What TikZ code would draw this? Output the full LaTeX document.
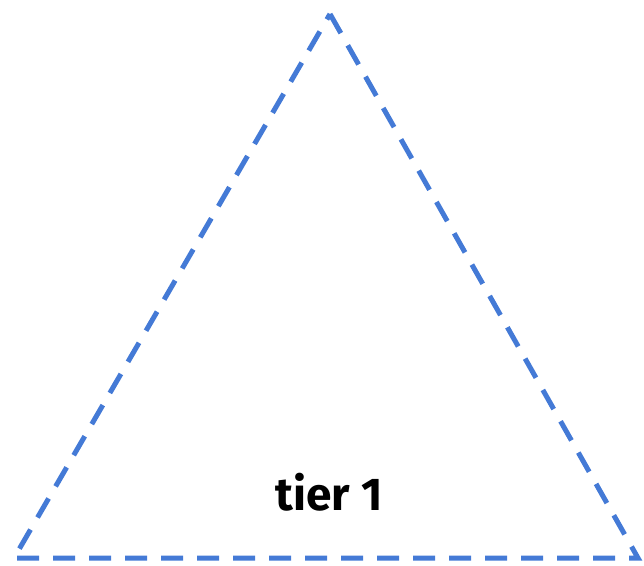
\documentclass[tikz,border=0pt]{standalone}
\usepackage{fontspec}
\setsansfont{Fira Sans}
\usepackage{tikz}
\usetikzlibrary{positioning}
\usepackage{xcolor}
\definecolor{TierBlue}{RGB}{68,122,214}

\begin{document}
\begin{tikzpicture}[
    x=1pt, y=-1pt,
    edge/.style={draw=TierBlue, line width=5pt, dash pattern=on 22pt off 14pt, line join=miter},
    label/.style={font=\sffamily\bfseries\fontsize{46}{52}\selectfont, text=black, inner sep=0pt}
]
    \useasboundingbox (0,0) rectangle (644,565);
    \coordinate (apex) at (330,14);
    \coordinate (left) at (14,558);
    \coordinate (right) at (638,558);

    \draw[edge] (apex) -- (right) -- (left) -- cycle;

    \node[label] (tier) at (329,492) {tier 1};
\end{tikzpicture}
\end{document}
